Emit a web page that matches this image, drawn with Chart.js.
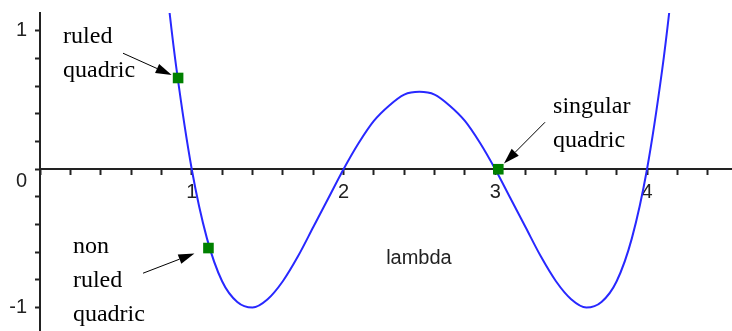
<!DOCTYPE html>
<html>
<head>
<meta charset="utf-8">
<script src="https://cdn.jsdelivr.net/npm/chart.js@4"></script>
<style>
  body { margin: 0; background: #fff; }
  canvas { display: block; }
</style>
</head>
<body>
<canvas id="myChart" width="732" height="331"></canvas>
<script>
// curve samples: x = lambda, y = value
var lambdaVals = [0.8, 0.85, 0.9, 1.0, 1.1, 1.2, 1.3, 1.4, 1.5, 1.6, 1.7, 1.8, 1.9,
                  2.0, 2.1, 2.2, 2.3, 2.4, 2.5, 2.6, 2.7, 2.8, 2.9,
                  3.0, 3.1, 3.2, 3.3, 3.4, 3.5, 3.6, 3.7, 3.8, 3.9,
                  4.0, 4.1, 4.15, 4.2];
var curveVals = [1.69, 1.17, 0.72, 0, -0.50, -0.81, -0.96, -1.00, -0.94, -0.81, -0.63, -0.42, -0.21,
                 0, 0.19, 0.35, 0.46, 0.54, 0.56, 0.54, 0.46, 0.35, 0.19,
                 0, -0.21, -0.42, -0.63, -0.81, -0.94, -1.00, -0.96, -0.81, -0.50,
                 0, 0.72, 1.17, 1.69];

// marked quadrics
var markerLambda = [0.91, 1.11, 3.02];
var markerVals = [0.66, -0.57, 0];
var markerNames = [["ruled", "quadric"], ["non", "ruled", "quadric"], ["singular", "quadric"]];

var xTickLabels = ["1", "2", "3", "4"];
var yTickLabels = ["-1", "0", "1"];
var axisTitle = "lambda";

// where the note texts and arrow tails sit (data units)
var notePos = [
    {tx: 0.152, ty: 0.91, ax: 0.547, ay: 0.839, gap: 7},
    {tx: 0.217, ty: -0.607, ax: 0.679, ay: -0.752, gap: 15},
    {tx: 3.381, ty: 0.405, ax: 3.328, ay: 0.340, gap: 8}
];

var sansFont = '"Liberation Sans", Arial, sans-serif';

function isWhole(v, list) {
    var r = Math.round(v);
    return Math.abs(v - r) < 1e-6 && list.indexOf(String(r)) >= 0;
}

// labels must not shrink the plot area
function noPadding(scale) {
    scale.paddingTop = 0;
    scale.paddingBottom = 0;
    scale.paddingLeft = 0;
    scale.paddingRight = 0;
}

var notesPlugin = {
    id: "notes",
    afterDatasetsDraw: function(chart) {
        var ctx = chart.ctx;
        var x = chart.scales.x, y = chart.scales.y;
        ctx.save();

        // axis title sits inside the plot
        ctx.fillStyle = "#222";
        ctx.font = "20px " + sansFont;
        ctx.textAlign = "center";
        ctx.textBaseline = "middle";
        ctx.fillText(axisTitle, x.getPixelForValue(2.497), y.getPixelForValue(-0.644));

        ctx.fillStyle = "#000";
        ctx.strokeStyle = "#000";
        ctx.lineWidth = 1;
        ctx.font = '24px "Liberation Serif", "Times New Roman", serif';
        ctx.textAlign = "left";
        ctx.textBaseline = "alphabetic";

        notePos.forEach(function(n, i) {
            var px = x.getPixelForValue(n.tx), py = y.getPixelForValue(n.ty);
            markerNames[i].forEach(function(t, k) {
                ctx.fillText(t, px, py + k * 34);
            });

            var x0 = x.getPixelForValue(n.ax), y0 = y.getPixelForValue(n.ay);
            var x1 = x.getPixelForValue(markerLambda[i]), y1 = y.getPixelForValue(markerVals[i]);
            var ang = Math.atan2(y1 - y0, x1 - x0);
            var ex = x1 - Math.cos(ang) * n.gap, ey = y1 - Math.sin(ang) * n.gap;
            var hl = 16, hw = 5;
            var bx = ex - Math.cos(ang) * hl, by = ey - Math.sin(ang) * hl;

            ctx.beginPath();
            ctx.moveTo(x0, y0);
            ctx.lineTo(bx, by);
            ctx.stroke();

            ctx.beginPath();
            ctx.moveTo(ex, ey);
            ctx.lineTo(bx - Math.sin(ang) * hw, by + Math.cos(ang) * hw);
            ctx.lineTo(bx + Math.sin(ang) * hw, by - Math.cos(ang) * hw);
            ctx.closePath();
            ctx.fill();
        });
        ctx.restore();
    }
};

var ctx = document.getElementById("myChart");

var curvePts = lambdaVals.map(function(v, i) { return {x: v, y: curveVals[i]}; });
var markerPts = markerLambda.map(function(v, i) { return {x: v, y: markerVals[i]}; });

var data = {
    datasets: [
        {
            type: "scatter",
            label: "quadrics",
            data: markerPts,
            pointStyle: "rect",
            pointRadius: 7.5,
            backgroundColor: "#008000",
            borderWidth: 0,
            order: 0
        },
        {
            type: "line",
            label: "curve",
            data: curvePts,
            borderColor: "rgb(40, 40, 255)",
            borderWidth: 2,
            pointRadius: 0,
            fill: false,
            cubicInterpolationMode: "monotone",
            order: 1
        }
    ]
};

var options = {
    responsive: false,
    animation: false,
    layout: { autoPadding: false, padding: { top: 13, left: 0, right: 0, bottom: 0 } },
    plugins: {
        legend: { display: false },
        tooltip: { enabled: false }
    },
    scales: {
        x: {
            type: "linear",
            min: 0,
            max: 4.56,
            position: { y: 0 },
            afterFit: noPadding,
            grid: { drawOnChartArea: false, tickLength: 5, tickWidth: 2, tickColor: "#222" },
            border: { color: "#222", width: 2 },
            ticks: {
                stepSize: 0.2,
                includeBounds: false,
                autoSkip: false,
                maxRotation: 0,
                padding: 6,
                color: "#222",
                font: { family: sansFont, size: 20 },
                callback: function(v) {
                    return isWhole(v, xTickLabels) ? String(Math.round(v)) : "";
                }
            }
        },
        y: {
            type: "linear",
            min: -1.17,
            max: 1.13,
            grid: { drawOnChartArea: false, tickLength: 5, tickWidth: 2, tickColor: "#222" },
            border: { color: "#222", width: 2 },
            afterFit: function(scale) {
                noPadding(scale);
                scale.width = 40;
            },
            ticks: {
                stepSize: 0.2,
                includeBounds: false,
                autoSkip: false,
                padding: 8,
                color: "#222",
                font: { family: sansFont, size: 20 },
                callback: function(v) {
                    if (!isWhole(v, yTickLabels)) return "";
                    var r = Math.round(v);
                    return r === 0 ? ["", "0"] : String(r);
                }
            }
        }
    }
};

var chart = new Chart(ctx, {
    data: data,
    options: options,
    plugins: [notesPlugin]
});
</script>
</body>
</html>
